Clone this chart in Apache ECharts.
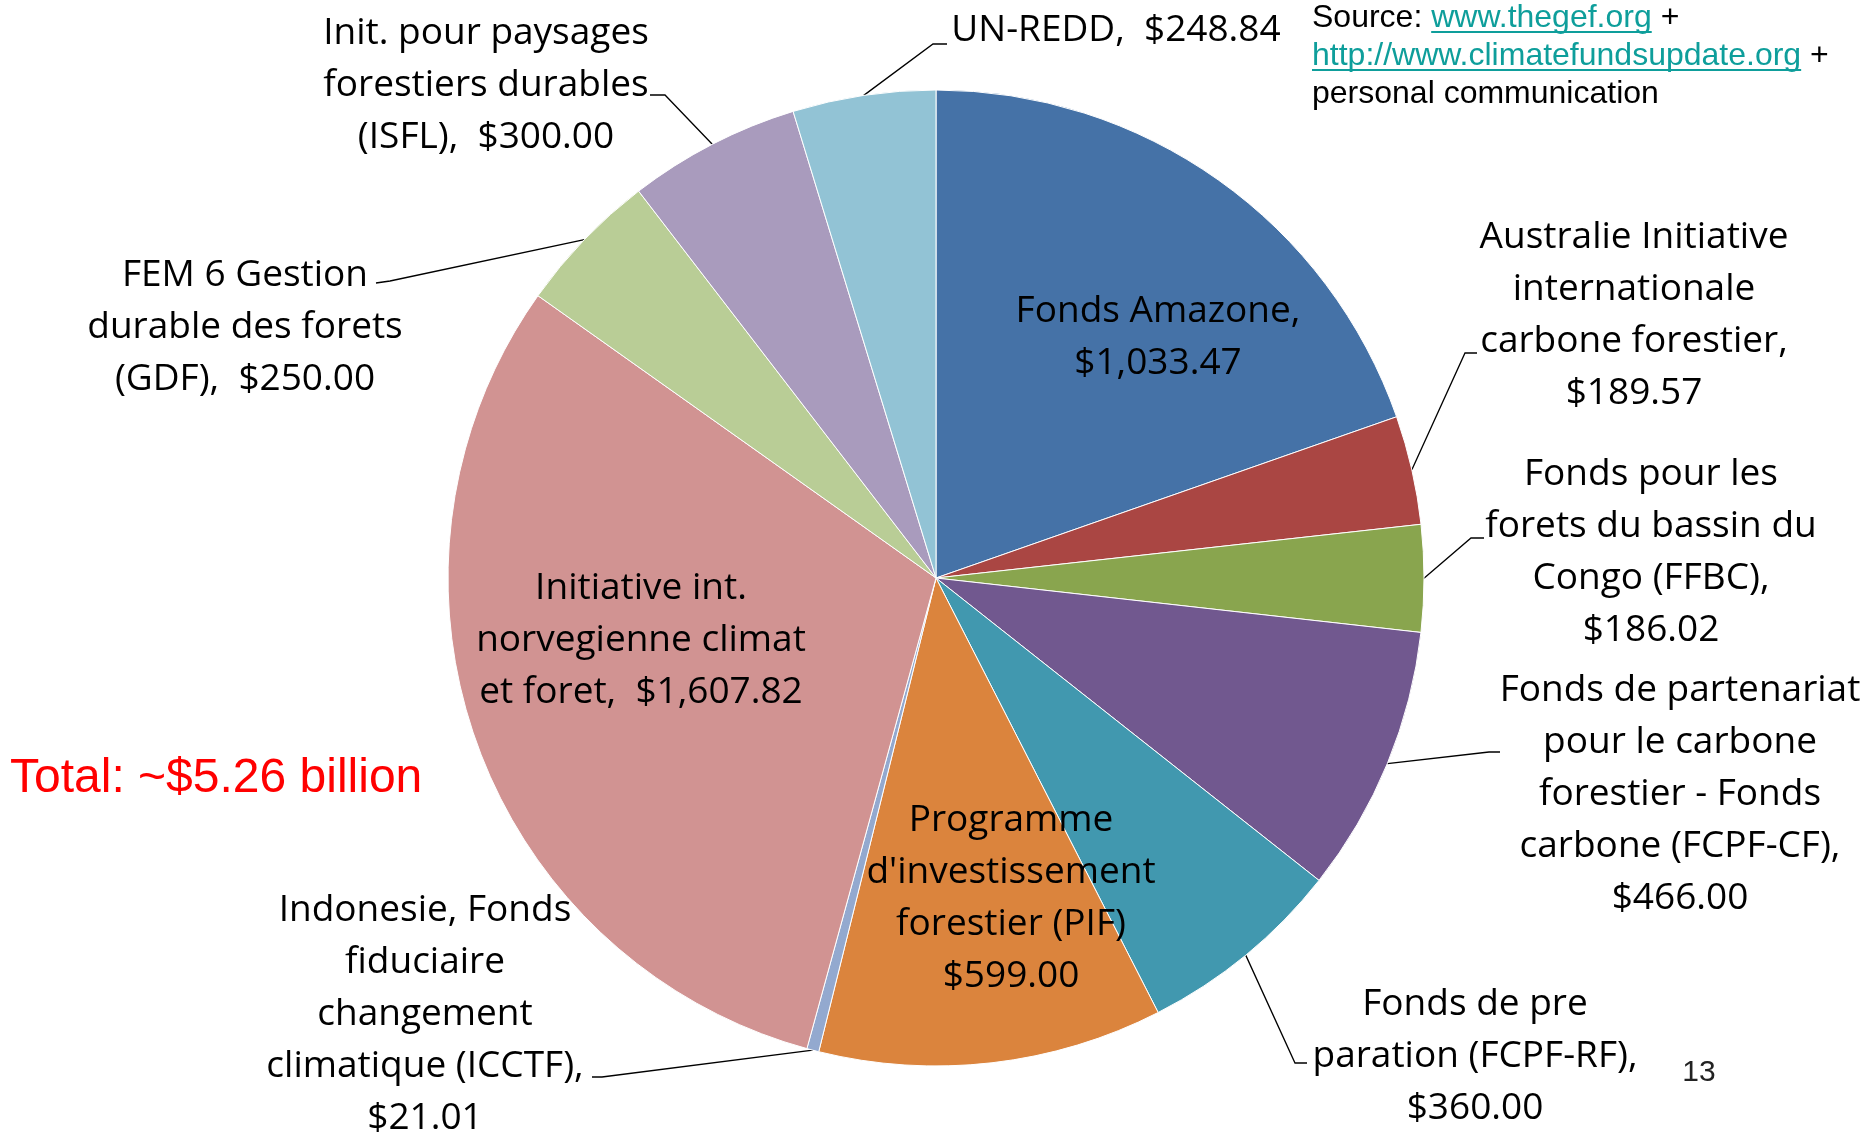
<!DOCTYPE html>
<html>
<head>
<meta charset="utf-8">
<script src="https://cdn.jsdelivr.net/npm/echarts/dist/echarts.min.js"></script>
<style>
  html, body { margin: 0; padding: 0; background: #fff; }
  #main { width: 1868px; height: 1133px; }
</style>
</head>
<body>
<div id="main"></div>
<script>
// montants (millions USD), dans l'ordre horaire depuis midi
var categories = [
  'Fonds Amazone,',
  'Australie Initiative\ninternationale\ncarbone forestier,',
  'Fonds pour les\nforets du bassin du\nCongo (FFBC),',
  'Fonds de partenariat\npour le carbone\nforestier - Fonds\ncarbone (FCPF-CF),',
  'Fonds de pre\nparation (FCPF-RF),',
  'Programme\nd\'investissement\nforestier (PIF)',
  'Indonesie, Fonds\nfiduciaire\nchangement\nclimatique (ICCTF),',
  'Initiative int.\nnorvegienne climat\net foret,',
  'FEM 6 Gestion\ndurable des forets\n(GDF),',
  'Init. pour paysages\nforestiers durables\n(ISFL),',
  'UN-REDD,'
];
var values = [1033.47, 189.57, 186.02, 466.00, 360.00, 599.00, 21.01, 1607.82, 250.00, 300.00, 248.84];
var valueSeps = ['\n', '\n', '\n', '\n', '\n', '\n', '\n', '  ', '  ', '  ', '  '];
var insideLabels = [0, 5, 7];

var colors = ['#4572A7', '#AA4643', '#89A54E', '#71588F', '#4198AF', '#DB843D',
              '#93A9CF', '#D19392', '#B9CD96', '#A99BBD', '#92C3D5'];

var sourceLinks = ['www.thegef.org', 'http://www.climatefundsupdate.org'];
var totalText = 'Total: ~$5.26 billion';
var pageNumber = '13';

// position des etiquettes (centre du bloc) et coude du trait de rappel
var labelPlaces = [
  { x: 1158, y: 337 },
  { x: 1634, y: 315, elbow: [1465, 353], end: [1477, 353] },
  { x: 1651, y: 552, elbow: [1471, 538], end: [1484, 538] },
  { x: 1680, y: 794, elbow: [1489, 752], end: [1500, 752] },
  { x: 1475, y: 1056, elbow: [1295, 1063], end: [1307, 1063] },
  { x: 1011, y: 898 },
  { x: 425, y: 1014, elbow: [602, 1077], end: [592, 1077] },
  { x: 641, y: 640 },
  { x: 245, y: 327, elbow: [390, 281], end: [376, 283] },
  { x: 486, y: 85, elbow: [665, 95], end: [650, 95] },
  { x: 1116, y: 30, elbow: [933, 44], end: [947, 44] }
];

function money(v) {
  return '$' + v.toLocaleString('en-US', { minimumFractionDigits: 2, maximumFractionDigits: 2 });
}

var pieData = categories.map(function (c, i) {
  var item = { name: c, value: values[i], itemStyle: { color: colors[i] } };
  if (insideLabels.indexOf(i) >= 0) {
    item.label = { position: 'inside' };
    item.labelLine = { show: false };
  }
  return item;
});

var chart = echarts.init(document.getElementById('main'), null, { renderer: 'canvas' });

var srcFont = '32px "Liberation Sans", Arial, sans-serif';
var ctx = document.createElement('canvas').getContext('2d');
ctx.font = srcFont;
var srcX = 1312;
var w0 = ctx.measureText('Source: ').width;
var w1 = ctx.measureText(sourceLinks[0]).width;
var w2 = ctx.measureText(sourceLinks[1]).width;
var linkColor = '#0E9E9B';

chart.setOption({
  backgroundColor: '#fff',
  animation: false,
  series: [{
    type: 'pie',
    center: [936, 578],
    radius: 488,
    startAngle: 90,
    clockwise: true,
    avoidLabelOverlap: false,
    data: pieData,
    itemStyle: { borderColor: '#fff', borderWidth: 1 },
    label: {
      show: true,
      position: 'outside',
      color: '#000',
      fontFamily: 'Open Sans',
      fontSize: 37,
      lineHeight: 52,
      align: 'center',
      formatter: function (p) {
        return p.name + valueSeps[p.dataIndex] + money(p.value);
      }
    },
    labelLine: {
      show: true,
      length: 20,
      length2: 10,
      lineStyle: { color: '#000', width: 1.3 }
    },
    emphasis: { disabled: true },
    labelLayout: function (p) {
      var pl = labelPlaces[p.dataIndex];
      var out = { x: pl.x, y: pl.y, align: 'center', verticalAlign: 'middle' };
      if (pl.end && p.labelLinePoints) {
        out.labelLinePoints = [p.labelLinePoints[0], pl.elbow, pl.end];
      }
      return out;
    }
  }],
  graphic: [
    {
      type: 'text', x: 10, y: 779,
      style: { text: totalText, font: '48px "Liberation Sans", Arial, sans-serif', fill: '#ff0000', verticalAlign: 'middle' }
    },
    {
      type: 'text', x: 1699, y: 1073,
      style: { text: pageNumber, font: '30px "Liberation Sans", Arial, sans-serif', fill: '#222', align: 'center', verticalAlign: 'middle' }
    },
    {
      type: 'text', x: srcX, y: 18,
      style: {
        text: '{k|Source: }{l|' + sourceLinks[0] + '}{k| +}',
        font: srcFont, verticalAlign: 'middle',
        rich: { k: { fill: '#000', font: srcFont }, l: { fill: linkColor, font: srcFont } }
      }
    },
    {
      type: 'text', x: srcX, y: 56,
      style: {
        text: '{l|' + sourceLinks[1] + '}{k| +}',
        font: srcFont, verticalAlign: 'middle',
        rich: { k: { fill: '#000', font: srcFont }, l: { fill: linkColor, font: srcFont } }
      }
    },
    {
      type: 'text', x: srcX, y: 94,
      style: { text: 'personal communication', font: srcFont, fill: '#000', verticalAlign: 'middle' }
    },
    {
      type: 'line', shape: { x1: srcX + w0, y1: 32, x2: srcX + w0 + w1, y2: 32 },
      style: { stroke: linkColor, lineWidth: 2 }
    },
    {
      type: 'line', shape: { x1: srcX, y1: 70, x2: srcX + w2, y2: 70 },
      style: { stroke: linkColor, lineWidth: 2 }
    }
  ]
});
</script>
</body>
</html>
